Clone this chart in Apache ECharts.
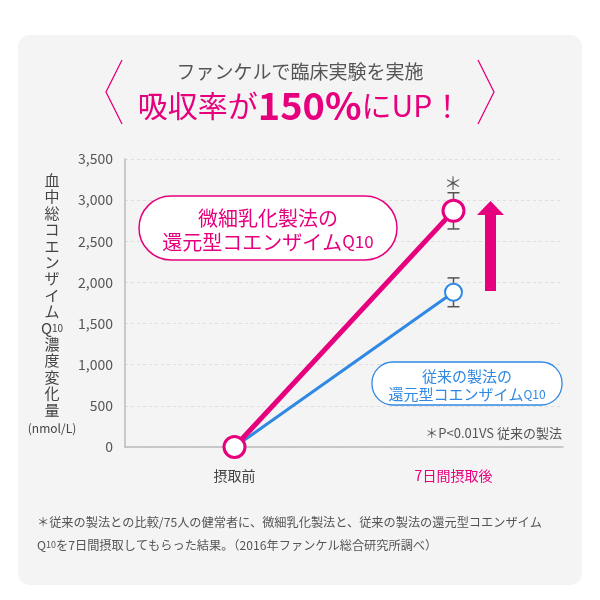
<!DOCTYPE html>
<html>
<head>
<meta charset="utf-8">
<script src="https://cdn.jsdelivr.net/npm/echarts@6/dist/echarts.min.js"></script>
<style>
  html, body { margin: 0; padding: 0; background: #fff; }
  #chart { width: 600px; height: 600px; }
</style>
</head>
<body>
<div id="chart"></div>
<script>
// データ
const categories = ['摂取前', '7日間摂取後'];
const microValues = [0, 2870];        // 微細乳化製法
const conventionalValues = [0, 1880]; // 従来の製法
const microErrors = [0, 220];
const conventionalErrors = [0, 175];
const yMin = 0;
const yMax = 3500;
const yStep = 500;

const PINK = '#e6007e';
const BLUE = '#2f88e3';
const FONT = '"Noto Sans CJK JP", "Noto Sans", sans-serif';

// エラーバー用のカスタム描画
function errorBarSeries(values, errors) {
    const data = values.map((v, i) => [i, v - errors[i], v + errors[i]]);
    return {
        type: 'custom',
        z: 1,
        silent: true,
        data: data.filter(d => d[2] > d[1]),
        renderItem: (params, api) => {
            const lo = api.coord([api.value(0), api.value(1)]);
            const hi = api.coord([api.value(0), api.value(2)]);
            const half = 6;
            const style = { stroke: '#555', lineWidth: 1.5 };
            return {
                type: 'group',
                children: [
                    { type: 'line', shape: { x1: lo[0], y1: lo[1], x2: hi[0], y2: hi[1] }, style },
                    { type: 'line', shape: { x1: hi[0] - half, y1: hi[1], x2: hi[0] + half, y2: hi[1] }, style },
                    { type: 'line', shape: { x1: lo[0] - half, y1: lo[1], x2: lo[0] + half, y2: lo[1] }, style }
                ]
            };
        }
    };
}

document.addEventListener('DOMContentLoaded', () => {
    const chart = echarts.init(document.getElementById('chart'));

    const option = {
        backgroundColor: '#fff',
        animation: false,
        textStyle: { fontFamily: FONT },
        grid: { left: 125, right: 37, top: 159, bottom: 153 },
        xAxis: {
            type: 'category',
            data: categories,
            boundaryGap: true,
            axisLine: { lineStyle: { color: '#bbb', width: 1.5 } },
            axisTick: { show: false },
            axisLabel: {
                margin: 22,
                fontSize: 14,
                fontFamily: FONT,
                color: (val) => (val === categories[1] ? PINK : '#444')
            },
            splitLine: { show: false }
        },
        yAxis: {
            type: 'value',
            min: yMin,
            max: yMax,
            interval: yStep,
            axisLine: { show: true, lineStyle: { color: '#bbb', width: 1.5 } },
            axisTick: { show: false },
            axisLabel: {
                margin: 12,
                fontSize: 14,
                color: '#555',
                fontFamily: FONT,
                formatter: (v) => v.toLocaleString('en-US')
            },
            splitLine: { lineStyle: { color: '#ddd', type: [3, 3] } }
        },
        series: [
            errorBarSeries(microValues, microErrors),
            errorBarSeries(conventionalValues, conventionalErrors),
            {
                name: '従来の製法',
                type: 'line',
                z: 3,
                data: conventionalValues,
                symbol: 'circle',
                symbolSize: 17,
                lineStyle: { color: BLUE, width: 3 },
                itemStyle: { color: '#fff', borderColor: BLUE, borderWidth: 2 }
            },
            {
                name: '微細乳化製法',
                type: 'line',
                z: 4,
                data: microValues,
                symbol: 'circle',
                symbolSize: 21,
                lineStyle: { color: PINK, width: 5 },
                itemStyle: { color: '#fff', borderColor: PINK, borderWidth: 3 }
            }
        ],
        graphic: [
            // 背景パネル
            {
                type: 'rect', z: -10, silent: true,
                shape: { x: 18, y: 35, width: 564, height: 550, r: 12 },
                style: { fill: '#f4f4f4' }
            },
            // 見出しの括弧
            {
                type: 'polyline', z: 5,
                shape: { points: [[122, 60], [106, 92], [122, 124]] },
                style: { stroke: PINK, lineWidth: 1.3, fill: null }
            },
            {
                type: 'polyline', z: 5,
                shape: { points: [[478, 60], [494, 92], [478, 124]] },
                style: { stroke: PINK, lineWidth: 1.3, fill: null }
            },
            {
                type: 'text', z: 5,
                style: {
                    x: 300, y: 72, text: 'ファンケルで臨床実験を実施',
                    fill: '#555', fontSize: 19, fontFamily: FONT,
                    align: 'center', verticalAlign: 'middle'
                }
            },
            {
                type: 'text', z: 5,
                style: {
                    x: 300, y: 106,
                    text: '{a|吸収率が}{b|150%}{a|にUP！}',
                    align: 'center', verticalAlign: 'middle',
                    rich: {
                        a: { fill: PINK, fontSize: 30, fontFamily: FONT },
                        b: { fill: PINK, fontSize: 38, fontWeight: 'bold', fontFamily: FONT }
                    }
                }
            },
            // 縦軸名
            {
                type: 'text', z: 5,
                style: {
                    x: 52, y: 172,
                    text: '血\n中\n総\nコ\nエ\nン\nザ\nイ\nム\n{q|Q}{s|10}\n濃\n度\n変\n化\n量',
                    fill: '#444', fontSize: 15, lineHeight: 16.4, fontFamily: FONT,
                    align: 'center', verticalAlign: 'top',
                    rich: {
                        q: { fill: '#444', fontSize: 15, lineHeight: 16.4, fontFamily: FONT },
                        s: { fill: '#444', fontSize: 10, lineHeight: 16.4, fontFamily: FONT }
                    }
                }
            },
            {
                type: 'text', z: 5,
                style: {
                    x: 52, y: 428, text: '(nmol/L)',
                    fill: '#444', fontSize: 12, fontFamily: FONT,
                    align: 'center', verticalAlign: 'middle'
                }
            },
            // 微細乳化製法のラベル
            {
                type: 'rect', z: 6,
                shape: { x: 139, y: 196, width: 258, height: 64, r: 32 },
                style: { fill: '#fff', stroke: PINK, lineWidth: 1.5 }
            },
            {
                type: 'text', z: 7,
                style: {
                    x: 268, y: 230,
                    text: '微細乳化製法の\n還元型コエンザイム{s|Q10}',
                    fill: PINK, fontSize: 20, lineHeight: 24, fontFamily: FONT,
                    align: 'center', verticalAlign: 'middle',
                    rich: { s: { fill: PINK, fontSize: 17, lineHeight: 24, fontFamily: FONT } }
                }
            },
            // 従来の製法のラベル
            {
                type: 'rect', z: 6,
                shape: { x: 372, y: 362, width: 190, height: 43, r: 21 },
                style: { fill: '#fff', stroke: BLUE, lineWidth: 1.3 }
            },
            {
                type: 'text', z: 7,
                style: {
                    x: 467, y: 385,
                    text: '従来の製法の\n還元型コエンザイム{s|Q10}',
                    fill: BLUE, fontSize: 15, lineHeight: 18, fontFamily: FONT,
                    align: 'center', verticalAlign: 'middle',
                    rich: { s: { fill: BLUE, fontSize: 12, lineHeight: 18, fontFamily: FONT } }
                }
            },
            // 上向き矢印
            {
                type: 'polygon', z: 5,
                shape: {
                    points: [[490.5, 201], [504, 215], [496, 215], [496, 291],
                             [485, 291], [485, 215], [477, 215]]
                },
                style: { fill: PINK }
            },
            // 有意差マーク
            {
                type: 'text', z: 5,
                style: {
                    x: 453, y: 183, text: '＊',
                    fill: '#555', fontSize: 18, fontFamily: FONT,
                    align: 'center', verticalAlign: 'middle'
                }
            },
            {
                type: 'text', z: 5,
                style: {
                    x: 562, y: 433, text: '＊P<0.01VS 従来の製法',
                    fill: '#555', fontSize: 13, fontFamily: FONT,
                    align: 'right', verticalAlign: 'middle'
                }
            },
            // 注釈
            {
                type: 'text', z: 5,
                style: {
                    x: 37, y: 522,
                    text: '＊従来の製法との比較/75人の健常者に、微細乳化製法と、従来の製法の還元型コエンザイム',
                    fill: '#555', fontSize: 12.2, fontFamily: FONT,
                    align: 'left', verticalAlign: 'middle'
                }
            },
            {
                type: 'text', z: 5,
                style: {
                    x: 37, y: 545,
                    text: '{q|Q}{s|10}を7日間摂取してもらった結果。（2016年ファンケル総合研究所調べ）',
                    fill: '#555', fontSize: 12.2, fontFamily: FONT,
                    align: 'left', verticalAlign: 'middle',
                    rich: {
                        q: { fill: '#555', fontSize: 12.2, fontFamily: FONT },
                        s: { fill: '#555', fontSize: 9, fontFamily: FONT }
                    }
                }
            }
        ]
    };

    chart.setOption(option);
});
</script>
</body>
</html>
